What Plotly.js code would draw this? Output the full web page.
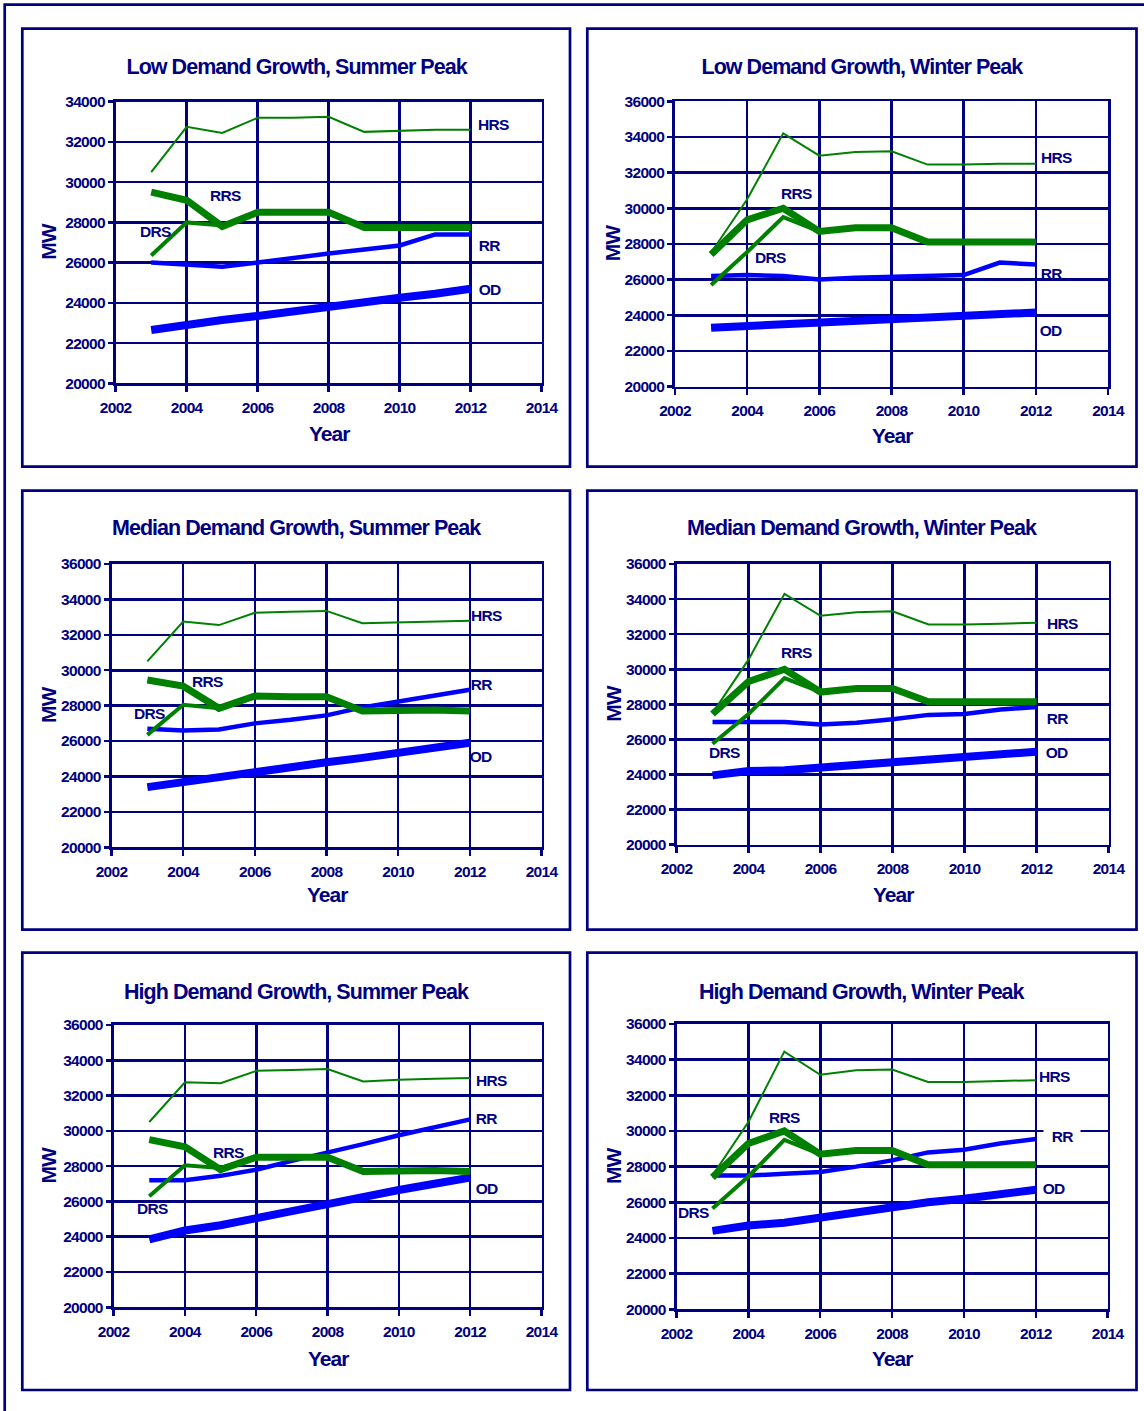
<!DOCTYPE html>
<html>
<head>
<meta charset="utf-8">
<script src="https://cdn.plot.ly/plotly-3.0.1.min.js"></script>
<style>
  html, body { margin: 0; padding: 0; background: #ffffff; }
  #chart { width: 1144px; height: 1411px; }
  #chart svg text { letter-spacing: -0.045em; }
</style>
</head>
<body>
<div id="chart"></div>
<script>
// Forecast years
const years = [2003, 2004, 2005, 2006, 2007, 2008, 2009, 2010, 2011, 2012];
const seriesNames = ['HRS', 'RRS', 'DRS', 'RR', 'OD'];
const panelTitles = [
  'Low Demand Growth, Summer Peak',
  'Low Demand Growth, Winter Peak',
  'Median Demand Growth, Summer Peak',
  'Median Demand Growth, Winter Peak',
  'High Demand Growth, Summer Peak',
  'High Demand Growth, Winter Peak'
];
const xTitle = 'Year';
const yTitle = 'MW';

// Low demand growth, summer peak (MW)
const lowSummerHRS = [30500, 32750, 32450, 33200, 33200, 33250, 32500, 32550, 32600, 32600];
const lowSummerRRS = [29500, 29100, 27800, 28500, 28500, 28500, 27750, 27750, 27750, 27750];
const lowSummerDRS = [26350, 28000, 27850, 28500, 28500, 28500, 27750, 27750, 27750, 27750];
const lowSummerRR  = [26000, 25900, 25800, 26000, 26250, 26450, 26650, 26850, 27400, 27400];
const lowSummerOD  = [22650, 22950, 23150, 23350, 23600, 23800, 24050, 24250, 24450, 24700];

// Low demand growth, winter peak (MW)
const lowWinterHRS = [27500, 30500, 34200, 32950, 33150, 33200, 32450, 32450, 32500, 32500];
const lowWinterRRS = [27400, 29350, 30000, 28700, 28900, 28900, 28100, 28100, 28100, 28100];
const lowWinterDRS = [25700, 27550, 29500, 28700, 28900, 28900, 28100, 28100, 28100, 28100];
const lowWinterRR  = [26200, 26250, 26200, 26000, 26100, 26150, 26250, 26250, 26950, 26850];
const lowWinterOD  = [23300, 23400, 23400, 23550, 23700, 23800, 23900, 23950, 24050, 24150];

// Median demand growth, summer peak (MW)
const medSummerHRS = [30500, 32750, 32550, 33250, 33300, 33350, 32650, 32700, 32750, 32800];
const medSummerRRS = [29450, 29100, 27850, 28550, 28500, 28500, 27700, 27750, 27750, 27700];
const medSummerDRS = [26350, 28050, 27850, 28550, 28500, 28500, 27700, 27750, 27750, 27700];
const medSummerRR  = [26700, 26600, 26650, 27000, 27200, 27450, 27900, 28250, 28600, 28900];
const medSummerOD  = [23400, 23700, 23950, 24250, 24500, 24800, 25050, 25300, 25600, 25900];

// Median demand growth, winter peak (MW)
const medWinterHRS = [27500, 30550, 34300, 33050, 33250, 33300, 32550, 32550, 32600, 32650];
const medWinterRRS = [27450, 29300, 30000, 28700, 28900, 28900, 28150, 28150, 28150, 28150];
const medWinterDRS = [25750, 27450, 29500, 28700, 28900, 28900, 28150, 28150, 28150, 28150];
const medWinterRR  = [27000, 27000, 27000, 26850, 26950, 27150, 27400, 27450, 27700, 27850];
const medWinterOD  = [23950, 24200, 24250, 24400, 24550, 24700, 24900, 24950, 25150, 25300];

// High demand growth, summer peak (MW)
const highSummerHRS = [30500, 32750, 32700, 33400, 33450, 33500, 32800, 32900, 32950, 33000];
const highSummerRRS = [29500, 29100, 27800, 28500, 28500, 28500, 27700, 27750, 27750, 27700];
const highSummerDRS = [26300, 28050, 27900, 28500, 28500, 28500, 27700, 27750, 27750, 27700];
const highSummerRR  = [27200, 27200, 27450, 27800, 28300, 28750, 29250, 29750, 30200, 30650];
const highSummerOD  = [23850, 24350, 24650, 25000, 25450, 25850, 26300, 26650, 27000, 27350];

// High demand growth, winter peak (MW)
const highWinterHRS = [27500, 30500, 34450, 33150, 33400, 33450, 32750, 32750, 32800, 32850];
const highWinterRRS = [27400, 29300, 30000, 28700, 28900, 28900, 28100, 28100, 28100, 28100];
const highWinterDRS = [25650, 27450, 29500, 28700, 28900, 28900, 28100, 28100, 28100, 28100];
const highWinterRR  = [27500, 27500, 27600, 27700, 28000, 28350, 28800, 28950, 29300, 29550];
const highWinterOD  = [24400, 24700, 24850, 25150, 25400, 25700, 26000, 26200, 26500, 26700];

const panelSeries = [
  {HRS: lowSummerHRS,  RRS: lowSummerRRS,  DRS: lowSummerDRS,  RR: lowSummerRR,  OD: lowSummerOD},
  {HRS: lowWinterHRS,  RRS: lowWinterRRS,  DRS: lowWinterDRS,  RR: lowWinterRR,  OD: lowWinterOD},
  {HRS: medSummerHRS,  RRS: medSummerRRS,  DRS: medSummerDRS,  RR: medSummerRR,  OD: medSummerOD},
  {HRS: medWinterHRS,  RRS: medWinterRRS,  DRS: medWinterDRS,  RR: medWinterRR,  OD: medWinterOD},
  {HRS: highSummerHRS, RRS: highSummerRRS, DRS: highSummerDRS, RR: highSummerRR, OD: highSummerOD},
  {HRS: highWinterHRS, RRS: highWinterRRS, DRS: highWinterDRS, RR: highWinterRR, OD: highWinterOD}
];

// ---- styling & page geometry ----
const W = 1144, H = 1411;
const NAVY = '#000080';
const GREEN = '#008000';
const BLUE = '#0000ff';
const FONT = 'Liberation Sans, Arial, Helvetica, sans-serif';

const lineStyle = {
  HRS: {color: GREEN, width: 2},
  RRS: {color: GREEN, width: 7},
  DRS: {color: GREEN, width: 4},
  RR:  {color: BLUE,  width: 4.5},
  OD:  {color: BLUE,  width: 8}
};
const drawOrder = ['OD', 'RR', 'HRS', 'DRS', 'RRS'];

// plot areas (page pixels)
const plotAreas = [
  {l: 115.7, r: 541.7, t: 101.7, b: 383.3, yMax: 34000},
  {l: 675.0, r: 1108.0, t: 101.3, b: 386.5, yMax: 36000},
  {l: 111.5, r: 541.5, t: 564.0, b: 847.3, yMax: 36000},
  {l: 676.5, r: 1108.5, t: 564.0, b: 844.7, yMax: 36000},
  {l: 113.6, r: 541.5, t: 1025.0, b: 1307.3, yMax: 36000},
  {l: 676.5, r: 1107.7, t: 1024.0, b: 1309.3, yMax: 36000}
];
// panel frames (page pixels)
const panelBoxes = [
  {l: 22.3, r: 570.0, t: 28.7, b: 466.7},
  {l: 587.3, r: 1136.5, t: 28.7, b: 466.7},
  {l: 22.3, r: 570.0, t: 490.7, b: 929.7},
  {l: 587.3, r: 1136.5, t: 490.7, b: 929.7},
  {l: 22.3, r: 570.0, t: 952.7, b: 1390.0},
  {l: 587.3, r: 1136.5, t: 952.7, b: 1390.0}
];
const titleY = [66.7, 66.7, 528, 528, 991.7, 991.7];
const xTitleY = [433, 435, 895, 895, 1358, 1358];
const yTitleX = [48.3, 613.3, 48.3, 613.3, 48.3, 613.3];

// series label anchors, in each panel's data coordinates [year, MW]
const labelAnchors = [
  {HRS: [2012.64, 32890], RRS: [2005.10, 29360], DRS: [2003.13, 27560], RR: [2012.52, 26850], OD: [2012.52, 24680]},
  {HRS: [2012.56, 32870], RRS: [2005.38, 30850], DRS: [2004.66, 27260], RR: [2012.42, 26360], OD: [2012.42, 23160]},
  {HRS: [2012.46, 33100], RRS: [2004.67, 29390], DRS: [2003.05, 27560], RR: [2012.31, 29200], OD: [2012.31, 25150]},
  {HRS: [2012.71, 32635], RRS: [2005.32, 30930], DRS: [2003.34, 25235], RR: [2012.56, 27175], OD: [2012.56, 25235]},
  {HRS: [2012.60, 32880], RRS: [2005.22, 28800], DRS: [2003.09, 25615], RR: [2012.45, 30715], OD: [2012.45, 26750]},
  {HRS: [2012.53, 33070], RRS: [2005.00, 30750], DRS: [2002.48, 25450], RR: [2012.73, 29700], OD: [2012.48, 26790]}
];
// the RR tag in the last panel sits on a white patch over the grid
const whiteTag = {panel: 5, name: 'RR'};

const fx = v => v / W;
const fy = v => 1 - v / H;

const traces = [];
const layout = {
  width: W, height: H, autosize: false,
  margin: {l: 0, r: 0, t: 0, b: 0, pad: 0},
  paper_bgcolor: '#ffffff', plot_bgcolor: '#ffffff',
  showlegend: false,
  font: {family: FONT, color: NAVY},
  shapes: [], annotations: []
};

// outer page border (only the top and left edges fall inside the page)
layout.shapes.push({
  type: 'rect', xref: 'paper', yref: 'paper',
  x0: fx(4.7), x1: fx(1160), y0: fy(4.7), y1: fy(1430),
  line: {color: NAVY, width: 2.7}, fillcolor: 'rgba(0,0,0,0)'
});

plotAreas.forEach((pa, i) => {
  const n = i + 1;
  const xName = n === 1 ? 'x' : 'x' + n;
  const yName = n === 1 ? 'y' : 'y' + n;
  const axCommon = {
    showgrid: true, gridcolor: NAVY, gridwidth: 2.6,
    showline: true, mirror: true, linecolor: NAVY, linewidth: 2.7,
    ticks: 'outside', tickcolor: NAVY, tickwidth: 2.5,
    zeroline: false, fixedrange: true,
    tickfont: {family: FONT, size: 15.5, color: NAVY, weight: 'bold'}
  };
  layout['xaxis' + (n === 1 ? '' : n)] = Object.assign({}, axCommon, {
    domain: [fx(pa.l), fx(pa.r)], anchor: yName,
    range: [2002, 2014], tick0: 2002, dtick: 2, ticklen: 6,
    ticklabelstandoff: 2
  });
  layout['yaxis' + (n === 1 ? '' : n)] = Object.assign({}, axCommon, {
    domain: [fy(pa.b), fy(pa.t)], anchor: xName,
    range: [20000, pa.yMax], tick0: 20000, dtick: 2000, ticklen: 5,
    tickformat: 'd', ticklabelstandoff: 0
  });

  drawOrder.forEach(name => {
    traces.push({
      type: 'scatter', mode: 'lines', name: name,
      x: years, y: panelSeries[i][name],
      xaxis: xName, yaxis: yName,
      line: {color: lineStyle[name].color, width: lineStyle[name].width},
      hoverinfo: 'skip'
    });
  });

  const box = panelBoxes[i];
  layout.shapes.push({
    type: 'rect', xref: 'paper', yref: 'paper',
    x0: fx(box.l), x1: fx(box.r), y0: fy(box.b), y1: fy(box.t),
    line: {color: NAVY, width: 2.7}, fillcolor: 'rgba(0,0,0,0)'
  });

  // panel title
  layout.annotations.push({
    xref: 'paper', yref: 'paper', showarrow: false,
    x: fx((box.l + box.r) / 2), y: fy(titleY[i]), xanchor: 'center', yanchor: 'middle',
    text: panelTitles[i],
    font: {family: FONT, size: 21.5, color: NAVY, weight: 'bold'}
  });
  // axis titles
  layout.annotations.push({
    xref: 'paper', yref: 'paper', showarrow: false,
    x: fx((pa.l + pa.r) / 2), y: fy(xTitleY[i]), xanchor: 'center', yanchor: 'middle',
    text: xTitle,
    font: {family: FONT, size: 21, color: NAVY, weight: 'bold'}
  });
  layout.annotations.push({
    xref: 'paper', yref: 'paper', showarrow: false, textangle: -90,
    x: fx(yTitleX[i]), y: fy((pa.t + pa.b) / 2), xanchor: 'center', yanchor: 'middle',
    text: yTitle,
    font: {family: FONT, size: 21, color: NAVY, weight: 'bold'}
  });
  // series tags
  seriesNames.forEach(name => {
    const pos = labelAnchors[i][name];
    const tag = {
      xref: xName, yref: yName, showarrow: false,
      x: pos[0], y: pos[1], xanchor: 'center', yanchor: 'middle',
      text: name,
      font: {family: FONT, size: 15.5, color: NAVY, weight: 'bold'}
    };
    if (whiteTag.panel === i && whiteTag.name === name) {
      tag.bgcolor = '#ffffff';
      tag.borderpad = 7;
    }
    layout.annotations.push(tag);
  });
});

Plotly.newPlot('chart', traces, layout, {staticPlot: true, displayModeBar: false});
</script>
</body>
</html>
